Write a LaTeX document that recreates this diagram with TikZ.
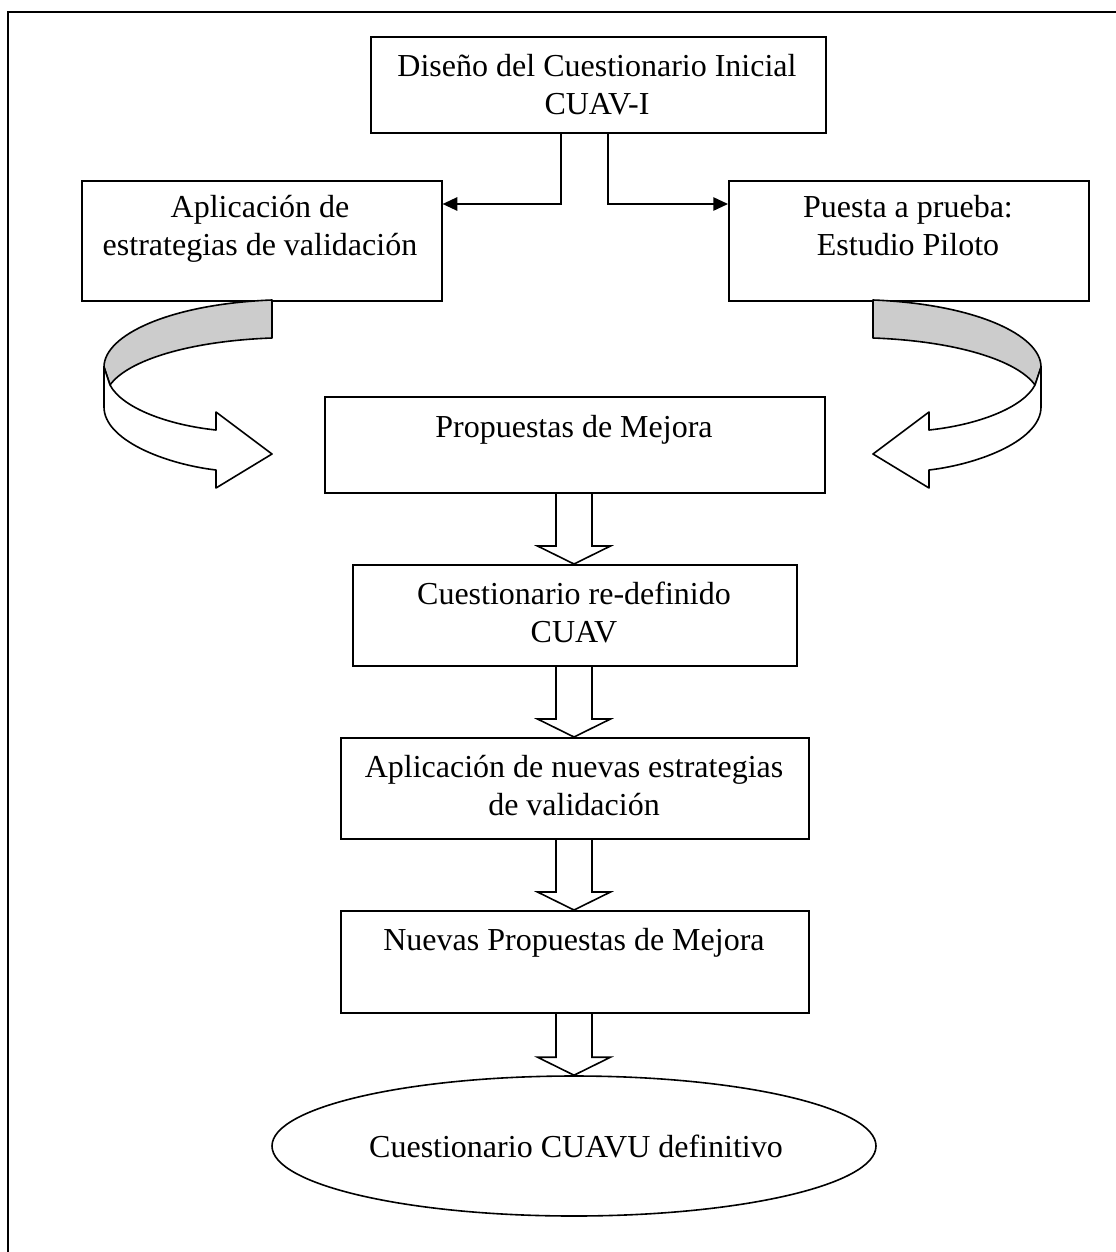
\documentclass[tikz,border=0pt]{standalone}
\usepackage{fontspec}
\setmainfont{Liberation Serif}
\usetikzlibrary{arrows.meta,calc,shapes.geometric}

\definecolor{band}{gray}{0.8}

\tikzset{
  stage/.style={draw, line width=1.2pt, fill=white, inner sep=0pt},
  % anchor=base sits on the baseline of the last line
  label/.style={align=center, inner sep=0pt, anchor=base, font=\fontsize{24}{28.5}\selectfont},
  link/.style={line width=1.2pt, -{Triangle[length=11pt,width=10pt]}},
  blk/.style={line width=1.2pt, line join=miter},
  ribbon/.style={line width=1.2pt, line join=round},
}

% hollow block arrow dropping from the bottom of #1 to the top of #2
\newcommand\droparrow[2]{%
  \path (ax |- #1.south) coordinate (s) (ax |- #2.north) coordinate (t);
  \draw[blk] ($(s)+(-18,0)$) -- ($(t)+(-18,-18)$) -- ($(t)+(-36.5,-18)$) -- (t)
    -- ($(t)+(36.5,-18)$) -- ($(t)+(18,-18)$) -- ($(s)+(18,0)$);
}

% rectangular stage given by its name and corners (pixels)
\newcommand\stagebox[5]{%
  \node[stage, minimum width=#4*0.75pt-#2*0.75pt, minimum height=#5*0.75pt-#3*0.75pt,
        anchor=north west] (#1) at (#2,#3) {};
}

% ribbon arrow bending round from under a box towards the proposals
\newcommand\ribbonarrow{%
  \draw[ribbon, fill=band] (272,300) .. controls (170,304) and (104,335) .. (104,367)
    -- (110,385) .. controls (128,360) and (190,341) .. (272,338) -- cycle;
  \draw[ribbon, fill=white] (104,367) -- (104,407)
    .. controls (104,440) and (165,464) .. (216,470) -- (216,488) -- (272,454)
    -- (216,412) -- (216,430) .. controls (168,425) and (122,408) .. (110,385) -- cycle;
}

\begin{document}
\begin{tikzpicture}[x=0.75pt, y=-0.75pt]
\useasboundingbox (0,0) rectangle (1116,1252);

% outer frame
\draw[line width=1.8pt] (1130,12) -- (8,12) -- (8,1270);

% stages
\stagebox{top}{370}{36}{825}{132}
\stagebox{left}{81}{180}{441}{300}
\stagebox{right}{728}{180}{1088}{300}
\stagebox{prop}{324}{396}{824}{492}
\stagebox{redef}{352}{564}{796}{665}
\stagebox{newval}{340}{737}{808}{838}
\stagebox{newprop}{340}{910}{808}{1012}
\node[draw, line width=1.2pt, ellipse, minimum width=604*0.75pt, minimum height=140*0.75pt,
      inner sep=0pt] (final) at (574,1146) {};

% stage texts
\node[label] (ttop) at (597,115) {Diseño del Cuestionario Inicial\\CUAV-I};
\node[label] (tleft) at (260,255) {Aplicación de\\estrategias de validación};
\node[label] (tright) at (908,255) {Puesta a prueba:\\Estudio Piloto};
\node[label] (tprop) at (574,437) {Propuestas de Mejora};
\node[label] (tredef) at (574,642) {Cuestionario re-definido\\CUAV};
\node[label] (tnewval) at (574,815) {Aplicación de nuevas estrategias\\de validación};
\node[label] (tnewprop) at (574,950) {Nuevas Propuestas de Mejora};
\node[label] (tfinal) at (576,1157) {Cuestionario CUAVU definitivo};

% branching connectors from the first stage
\coordinate (jl) at (561,204);
\coordinate (jr) at (608,204);
\draw[link] (top.south -| jl) |- (left.east |- jl);
\draw[link] (top.south -| jr) |- (right.west |- jr);

% hollow block arrows down the chain
\coordinate (ax) at (574,0);
\droparrow{prop}{redef}
\droparrow{redef}{newval}
\droparrow{newval}{newprop}
\droparrow{newprop}{final}

% ribbon arrows feeding the proposals stage
\ribbonarrow
\begin{scope}[xshift=1145*0.75pt, xscale=-1]
  \ribbonarrow
\end{scope}
\end{tikzpicture}
\end{document}
